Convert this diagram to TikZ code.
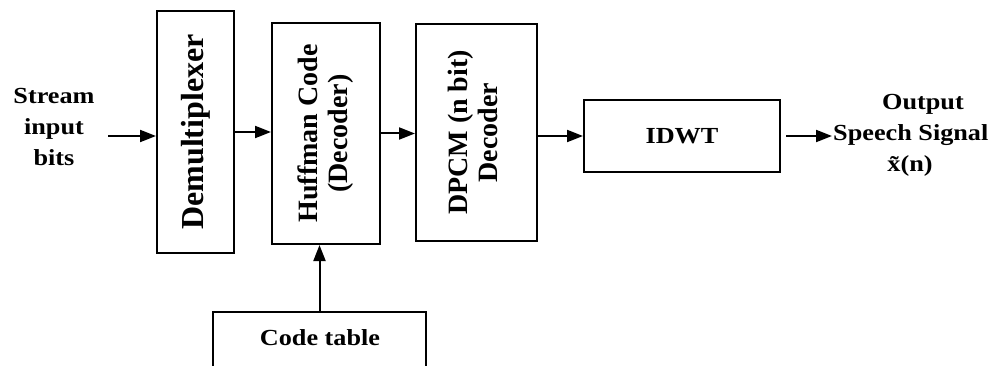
\documentclass[tikz,border=0pt]{standalone}
\usepackage{fontspec}
\setmainfont{Liberation Serif}
\newfontfamily\hfont{Liberation Serif}[FakeStretch=1.14]
\usetikzlibrary{arrows.meta}
\tikzset{
  box/.style={draw, line width=2pt, inner sep=0pt},
  arr/.style={-{Triangle[length=16pt,width=12pt]}, line width=2pt},
  htext/.style={font=\hfont\fontsize{23}{31}\selectfont\bfseries, align=center, inner sep=1pt}
}
\begin{document}
\begin{tikzpicture}[x=1pt,y=-1pt]
\useasboundingbox (0,0) rectangle (988,366);
\clip (0,0) rectangle (988,366);
\fill[white] (0,0) rectangle (988,366);
% boxes
\node[box, minimum width=77pt, minimum height=242pt] (demux) at (195.5,132)
  {\rotatebox{90}{\fontsize{32}{34}\selectfont\bfseries Demultiplexer}};
\node[box, minimum width=108pt, minimum height=221pt] (huff) at (326,133.5)
  {\rotatebox{90}{\fontsize{28}{30}\selectfont\bfseries\begin{tabular}{@{}c@{}}Huffman Code\\(Decoder)\end{tabular}}};
\node[box, minimum width=121pt, minimum height=217pt] (dpcm) at (476.5,132.5)
  {\rotatebox{90}{\fontsize{28}{30}\selectfont\bfseries\begin{tabular}{@{}c@{}}DPCM (n bit)\\Decoder\end{tabular}}};
\node[box, minimum width=196pt, minimum height=72pt, htext] (idwt) at (682,136) {IDWT};
\node[box, minimum width=213pt, minimum height=108pt] (code) at (319.5,366) {};
\node[htext] (codet) at (320,338) {Code table};
% texts
\node[htext] (stream) at (54,127) {Stream\\input\\bits};
\node[htext] (out1) at (923,104) {Output};
\node[htext, anchor=west] (out2) at (832,135) {Speech Signal};
\node[htext] (out3) at (910,166) {\~x(n)};
\coordinate (sin) at (108,136);
% arrows
\draw[arr] (sin) -- (sin -| demux.west);
\draw[arr] (demux.east) -- (demux.east -| huff.west);
\draw[arr] (huff.east) -- (huff.east -| dpcm.west);
\draw[arr] (idwt.west -| dpcm.east) -- (idwt.west);
\draw[arr] ([xshift=5pt]idwt.east) -- (idwt.east -| out2.west);
\draw[arr] (code.north) -- (code.north |- huff.south);
\end{tikzpicture}
\end{document}
